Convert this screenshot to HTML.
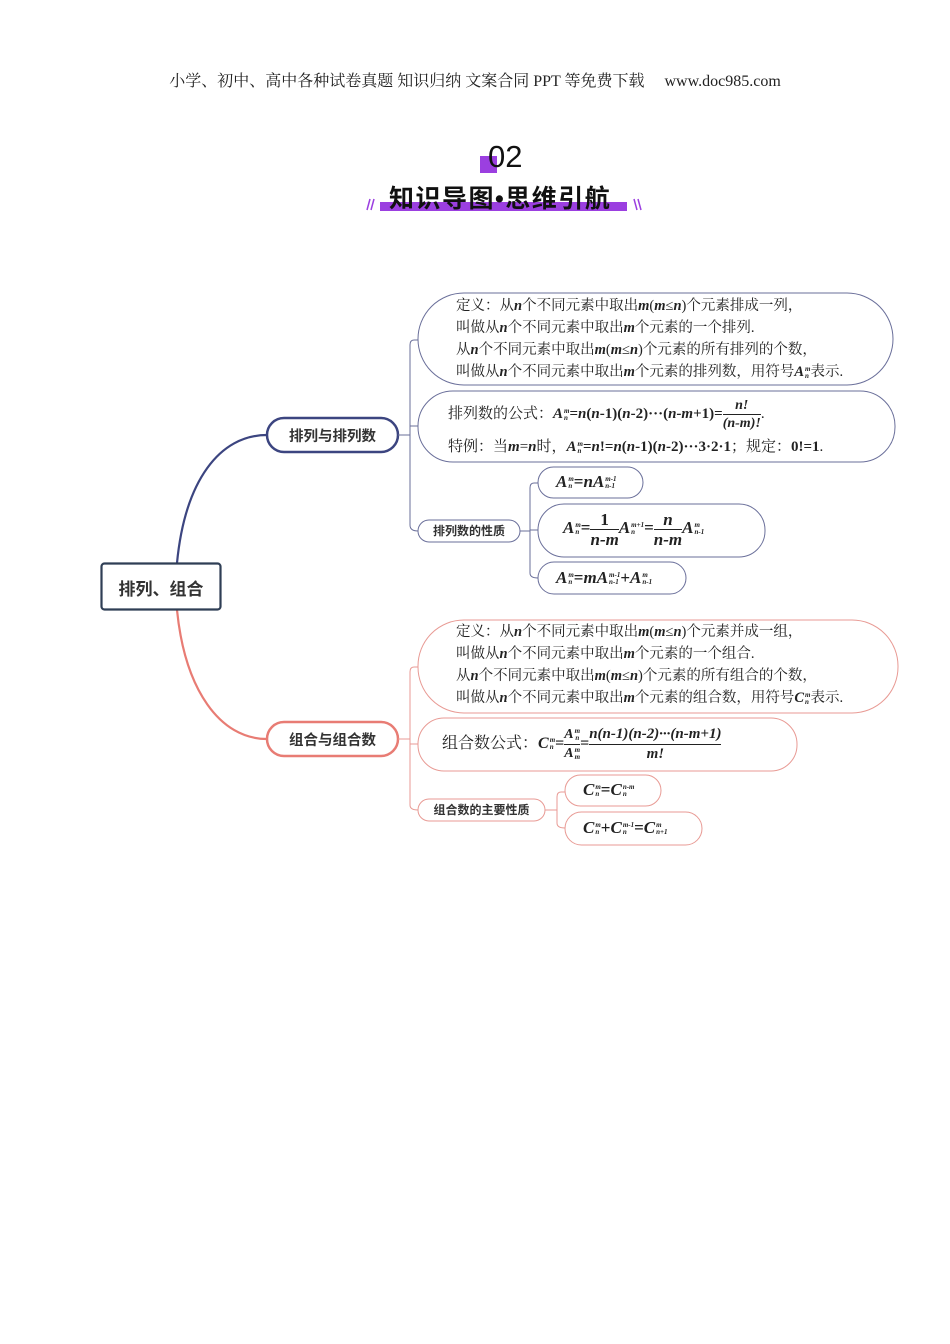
<!DOCTYPE html>
<html><head><meta charset="utf-8"><style>
*{margin:0;padding:0}
body{width:950px;height:1344px;background:#fff;position:relative;overflow:hidden;font-family:"Liberation Serif","Noto Serif CJK SC",serif;color:#222}
.a{position:absolute;white-space:nowrap}
.t{font-size:14.5px;line-height:22px}
i,.m{font-style:italic;font-weight:bold}
b{font-weight:bold}
.ss{display:inline-block;vertical-align:middle;font-size:7px;line-height:7px;font-style:italic;font-weight:bold;margin-left:1px}
.fr{display:inline-block;vertical-align:middle;text-align:center;font-weight:bold;font-style:italic;line-height:17px}
.fr>span{display:block}
.fr>.n{border-bottom:1px solid #222}
.h{font-family:"Liberation Sans","Noto Sans CJK SC",sans-serif;font-weight:bold;color:#333}
</style></head><body>
<svg class="a" style="left:0;top:0" width="950" height="1344">
<rect x="480" y="156" width="17" height="17" fill="#9b3fe0"/>
<rect x="380" y="202" width="247" height="9" fill="#9b3fe0"/>
<g stroke="#9b3fe0" stroke-width="1.5"><line x1="367" y1="210" x2="370" y2="199"/><line x1="371" y1="210" x2="374" y2="199"/><line x1="634" y1="199" x2="637" y2="210"/><line x1="638" y1="199" x2="641" y2="210"/></g>
<path d="M177 563 C185 480,220 435,267 435" fill="none" stroke="#3c4580" stroke-width="2.2"/>
<path d="M177 610 C185 690,220 739,267 739" fill="none" stroke="#e87c74" stroke-width="2.2"/>
<rect x="101.5" y="563.5" width="119" height="46" rx="3" fill="#fff" stroke="#2f3e55" stroke-width="2.2"/>
<rect x="267" y="418" width="131" height="34" rx="17" fill="#fff" stroke="#3c4580" stroke-width="2.5"/>
<rect x="267" y="722" width="131" height="34" rx="17" fill="#fff" stroke="#e87c74" stroke-width="2.5"/>
<g fill="none" stroke="#6a6f9a" stroke-width="1">
<line x1="398" y1="435" x2="410" y2="435"/>
<path d="M418 340 H414 Q410 340 410 345 V525 Q410 531 418 531"/>
<line x1="410" y1="426" x2="418" y2="426"/>
<rect x="418" y="293" width="475" height="92" rx="46"/>
<rect x="418" y="391" width="477" height="71" rx="35"/>
<rect x="418" y="520" width="102" height="22" rx="11"/>
<line x1="520" y1="531" x2="530" y2="531"/>
<path d="M538 483 H534 Q530 483 530 488 V573 Q530 578 538 578"/>
<line x1="530" y1="530" x2="538" y2="530"/>
<rect x="538" y="467" width="105" height="31" rx="15.5"/>
<rect x="538" y="504" width="227" height="53" rx="26"/>
<rect x="538" y="562" width="148" height="32" rx="16"/>
</g>
<g fill="none" stroke="#e89a94" stroke-width="1">
<line x1="398" y1="739" x2="410" y2="739"/>
<path d="M418 667 H414 Q410 667 410 672 V805 Q410 810 418 810"/>
<line x1="410" y1="744" x2="418" y2="744"/>
<rect x="418" y="620" width="480" height="93" rx="46"/>
<rect x="418" y="718" width="379" height="53" rx="26"/>
<rect x="418" y="799" width="127" height="22" rx="11"/>
<line x1="545" y1="810" x2="557" y2="810"/>
<path d="M565 792 H561 Q557 792 557 797 V823 Q557 828 565 828"/>
<rect x="565" y="775" width="96" height="31" rx="15.5"/>
<rect x="565" y="812" width="137" height="33" rx="16.5"/>
</g>
</svg>

<div class="a" style="left:0;width:950px;top:68px;text-align:center;font-size:16px">小学、初中、高中各种试卷真题 知识归纳 文案合同 PPT 等免费下载 &nbsp;&nbsp;&nbsp;&nbsp;www.doc985.com</div>
<div class="a" style="left:488px;top:139px;font-family:'Liberation Sans',sans-serif;font-size:31px;color:#111">02</div>
<div class="a h" style="left:389px;top:179px;font-size:25px;letter-spacing:1.5px;color:#111">知识导图•思维引航</div>

<div class="a h" style="left:101px;top:575px;width:120px;text-align:center;font-size:17px">排列、组合</div>
<div class="a h" style="left:267px;top:425px;width:131px;text-align:center;font-size:14.5px">排列与排列数</div>
<div class="a h" style="left:267px;top:729px;width:131px;text-align:center;font-size:14.5px">组合与组合数</div>
<div class="a h" style="left:418px;top:522px;width:102px;text-align:center;font-size:12px">排列数的性质</div>
<div class="a h" style="left:418px;top:801px;width:127px;text-align:center;font-size:12px">组合数的主要性质</div>

<div class="a t" style="left:456px;top:295px">定义：从<i>n</i>个不同元素中取出<i>m</i>(<i>m</i>≤<i>n</i>)个元素排成一列，<br>叫做从<i>n</i>个不同元素中取出<i>m</i>个元素的一个排列.<br>从<i>n</i>个不同元素中取出<i>m</i>(<i>m</i>≤<i>n</i>)个元素的所有排列的个数，<br>叫做从<i>n</i>个不同元素中取出<i>m</i>个元素的排列数，用符号<i>A</i><span class="ss">m<br>n</span>表示.</div>

<div class="a" style="left:448px;top:396px;font-size:15px;line-height:36px">排列数的公式：<i>A</i><span class="ss">m<br>n</span><b>=</b><i>n</i><b>(</b><i>n</i><b>-1)(</b><i>n</i><b>-2)···(</b><i>n</i><b>-</b><i>m</i><b>+1)=</b><span class="fr" style="font-size:14px"><span class="n">&nbsp;n!&nbsp;</span><span>(n-m)!</span></span>.</div>
<div class="a" style="left:448px;top:436px;font-size:15px;line-height:22px">特例：当<i>m</i>=<i>n</i>时，<i>A</i><span class="ss">m<br>n</span><b>=</b><i>n</i><b>!=</b><i>n</i><b>(</b><i>n</i><b>-1)(</b><i>n</i><b>-2)···3·2·1</b>；规定：<b>0!=1</b>.</div>

<div class="a" style="left:556px;top:472px;font-size:17px;line-height:20px"><i>A</i><span class="ss">m<br>n</span><b>=</b><i>nA</i><span class="ss">m-1<br>n-1</span></div>
<div class="a" style="left:563px;top:506px;font-size:17px;line-height:44px"><i>A</i><span class="ss">m<br>n</span><b>=</b><span class="fr" style="line-height:19px"><span class="n" style="font-style:normal">&nbsp;&nbsp;1&nbsp;&nbsp;</span><span>n-m</span></span><i>A</i><span class="ss">m+1<br>n</span><b>=</b><span class="fr" style="line-height:19px"><span class="n">&nbsp;&nbsp;n&nbsp;&nbsp;</span><span>n-m</span></span><i>A</i><span class="ss">m<br>n-1</span></div>
<div class="a" style="left:556px;top:568px;font-size:17px;line-height:20px"><i>A</i><span class="ss">m<br>n</span><b>=</b><i>mA</i><span class="ss">m-1<br>n-1</span><b>+</b><i>A</i><span class="ss">m<br>n-1</span></div>

<div class="a t" style="left:456px;top:621px">定义：从<i>n</i>个不同元素中取出<i>m</i>(<i>m</i>≤<i>n</i>)个元素并成一组，<br>叫做从<i>n</i>个不同元素中取出<i>m</i>个元素的一个组合.<br>从<i>n</i>个不同元素中取出<i>m</i>(<i>m</i>≤<i>n</i>)个元素的所有组合的个数，<br>叫做从<i>n</i>个不同元素中取出<i>m</i>个元素的组合数，用符号<i>C</i><span class="ss">m<br>n</span>表示.</div>

<div class="a" style="left:442px;top:722px;font-size:16px;line-height:44px">组合数公式：<i>C</i><span class="ss">m<br>n</span><b>=</b><span class="fr" style="line-height:18px;font-size:14px"><span class="n">A<span class="ss">m<br>n</span></span><span>A<span class="ss">m<br>m</span></span></span><b>=</b><span class="fr" style="font-size:15px;line-height:19px"><span class="n">n(n-1)(n-2)···(n-m+1)</span><span>m!</span></span></div>

<div class="a" style="left:583px;top:780px;font-size:17px;line-height:20px"><i>C</i><span class="ss">m<br>n</span><b>=</b><i>C</i><span class="ss">n-m<br>n</span></div>
<div class="a" style="left:583px;top:818px;font-size:17px;line-height:20px"><i>C</i><span class="ss">m<br>n</span><b>+</b><i>C</i><span class="ss">m-1<br>n</span><b>=</b><i>C</i><span class="ss">m<br>n+1</span></div>
</body></html>
